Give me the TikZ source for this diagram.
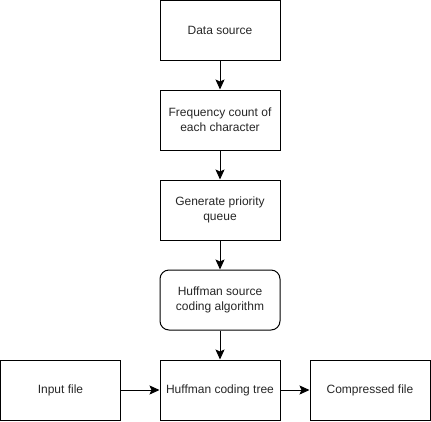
\documentclass[tikz,border=0pt]{standalone}
\usepackage{fontspec}
\setmainfont{Liberation Sans}
\usepackage{tikz}
\usetikzlibrary{arrows.meta, positioning}

\begin{document}
\begin{tikzpicture}[
  x=1pt, y=-1pt,
  box/.style={draw, line width=1pt, minimum width=120pt, minimum height=60pt,
    inner sep=0pt, align=center, font=\fontsize{12}{15}\selectfont, text=black!85},
  stage/.style={box, rectangle},
  algo/.style={box, rectangle, rounded corners=9pt},
  flow/.style={-{Stealth[length=10pt, width=9pt, inset=2pt]}, line width=1pt},
]

\useasboundingbox (0,0) rectangle (431,421);

%% Main pipeline
\node[stage] (src)  at (220, 30)  {Data source};
\node[stage] (freq) at (220,120)  {Frequency count of\\each character};
\node[stage] (pq)   at (220,210)  {Generate priority\\queue};
\node[algo]  (huff) at (220,300)  {Huffman source\\coding algorithm};
\node[stage] (tree) at (220,390)  {Huffman coding tree};

%% Input / output
\node[stage] (infile)  at (60.5,390) {Input file};
\node[stage] (outfile) at (370,390)  {Compressed file};

%% Arrows
\draw[flow] (src)    -- (freq);
\draw[flow] (freq)   -- (pq);
\draw[flow] (pq)     -- (huff);
\draw[flow] (huff)   -- (tree);
\draw[flow] (infile) -- (tree);
\draw[flow] (tree)   -- (outfile);

\end{tikzpicture}
\end{document}
